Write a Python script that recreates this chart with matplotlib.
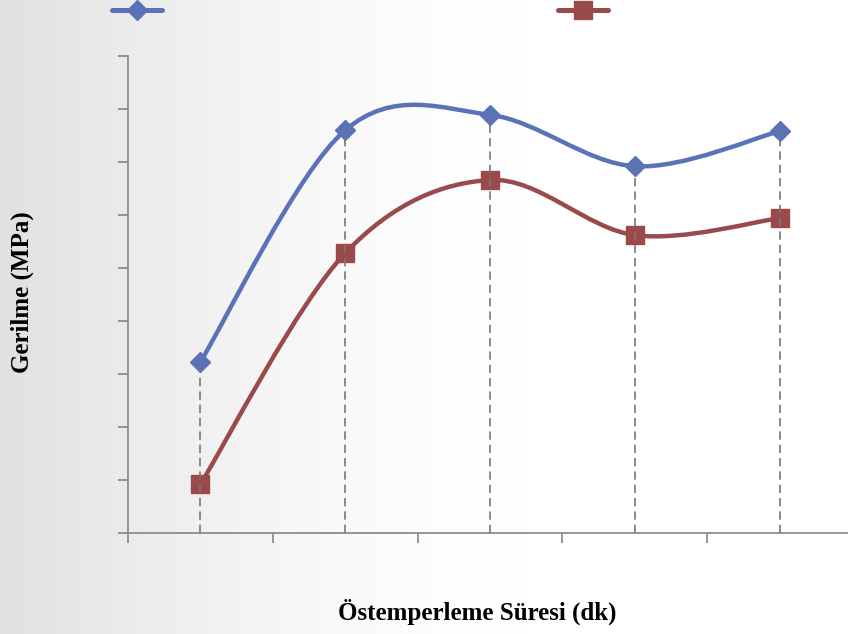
import numpy as np
import matplotlib
matplotlib.use("Agg")
import matplotlib.pyplot as plt
from matplotlib.path import Path
from matplotlib.patches import PathPatch
from matplotlib.lines import Line2D

# Veriler (kategori sırası, değerler eksen birimiyle okunmuştur)
kategoriler = [1, 2, 3, 4, 5]
seri_mavi = [323, 760, 789, 692, 758]
seri_kirmizi = [92, 528, 666, 562, 594]

mavi = "#5A72B8"
kirmizi = "#9B4A4C"


def smooth_path(xs, ys):
    """Excel tarzı düzgün eğri (Catmull-Rom -> Bezier)."""
    pts = np.column_stack([xs, ys]).astype(float)
    n = len(pts)
    verts = [pts[0]]
    codes = [Path.MOVETO]
    for i in range(n - 1):
        p0 = pts[i - 1] if i > 0 else pts[i]
        p1 = pts[i]
        p2 = pts[i + 1]
        p3 = pts[i + 2] if i + 2 < n else pts[i + 1]
        c1 = p1 + (p2 - p0) / 6
        c2 = p2 - (p3 - p1) / 6
        verts += [c1, c2, p2]
        codes += [Path.CURVE4] * 3
    return Path(verts, codes)


fig = plt.figure(figsize=(8.48, 6.34), dpi=100)

# Arka plan gradyanı
bg = fig.add_axes([0, 0, 1, 1], zorder=-10)
gx = np.linspace(0, 1, 400)
g = 1 - 0.12 * np.clip(1 - gx / 0.62, 0, 1) ** 1.6
img = np.tile(g, (10, 1))
bg.imshow(np.dstack([img, img, img]), aspect="auto", extent=[0, 1, 0, 1])
bg.axis("off")

ax = fig.add_axes([128 / 848, 1 - 533 / 634, 724 / 848, 477 / 634])
ax.patch.set_alpha(0)
ax.set_xlim(0.5, 5.5)
ax.set_ylim(0, 900)

for xs, ys, c in [(kategoriler, seri_mavi, mavi), (kategoriler, seri_kirmizi, kirmizi)]:
    ax.add_patch(PathPatch(smooth_path(xs, ys), facecolor="none", edgecolor=c,
                           lw=3.2, capstyle="round", zorder=3))

ax.plot(kategoriler, seri_mavi, linestyle="none", marker="D", ms=10, color=mavi,
        markeredgecolor=mavi, zorder=4)
ax.plot(kategoriler, seri_kirmizi, linestyle="none", marker="s", ms=13.5, color=kirmizi,
        markeredgecolor=kirmizi, zorder=4)

# Düşey kesikli çizgiler
tepe = np.maximum(seri_mavi, seri_kirmizi)
ax.vlines(kategoriler, 0, tepe, colors="#777777", linestyles=(0, (5, 3)), lw=1.2, zorder=5)

ax.set_xticks(np.arange(0.5, 6, 1))
ax.set_yticks(np.arange(0, 901, 100))
ax.tick_params(axis="both", length=7, color="#8c8c8c", width=1.3,
               labelleft=False, labelbottom=False)
for s in ["top", "right"]:
    ax.spines[s].set_visible(False)
for s in ["left", "bottom"]:
    ax.spines[s].set_color("#8c8c8c")
    ax.spines[s].set_linewidth(1.3)

fig.text(22 / 848, 1 - 292 / 634, "Gerilme (MPa)", rotation=90, ha="center", va="center",
         fontsize=18, fontweight="bold", family="Liberation Serif")
fig.text(477 / 848, 1 - 612 / 634, "Östemperleme Süresi (dk)", ha="center", va="center",
         fontsize=18, fontweight="bold", family="Liberation Serif")

# Lejant (metinsiz)
h1 = Line2D([], [], color=mavi, lw=3.6, marker="D", ms=10, solid_capstyle="round")
h2 = Line2D([], [], color=kirmizi, lw=3.6, marker="s", ms=13.5, solid_capstyle="round")
fig.legend([h1], [""], loc="center", bbox_to_anchor=(137 / 848, 1 - 11 / 634),
           frameon=False, handlelength=3.6, handletextpad=0)
fig.legend([h2], [""], loc="center", bbox_to_anchor=(583 / 848, 1 - 11 / 634),
           frameon=False, handlelength=3.6, handletextpad=0)

fig.savefig("out.png", dpi=100)
